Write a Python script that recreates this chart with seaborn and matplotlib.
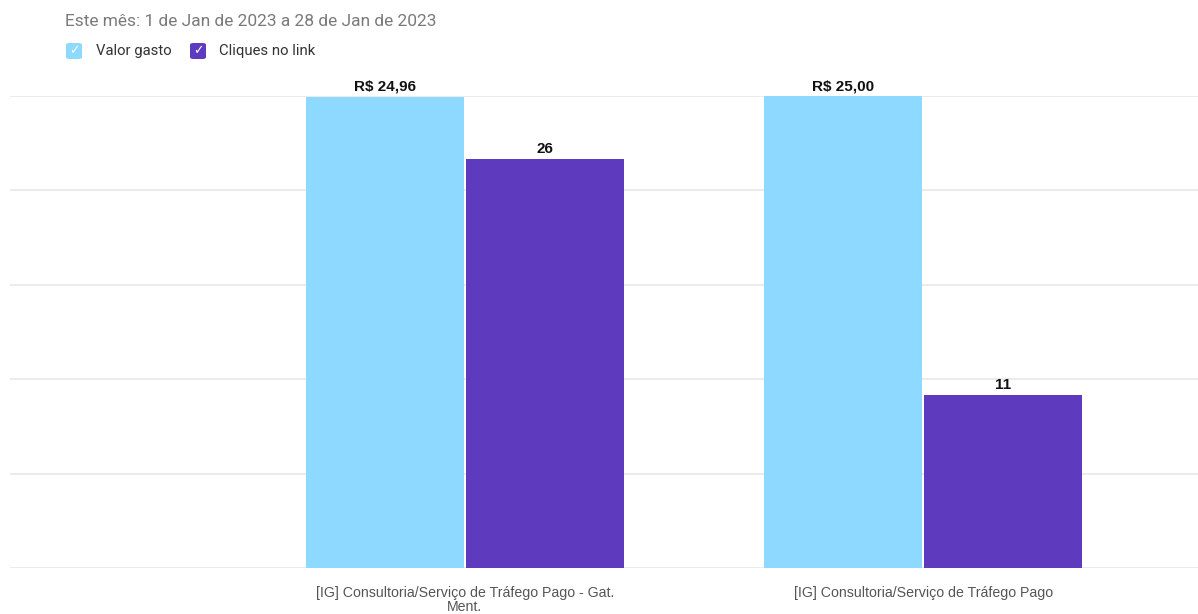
import matplotlib
matplotlib.use("Agg")
import matplotlib.pyplot as plt
import seaborn as sns
import pandas as pd
from matplotlib.patches import FancyBboxPatch

categories = ["[IG] Consultoria/Serviço de Tráfego Pago - Gat.\nMent.",
              "[IG] Consultoria/Serviço de Tráfego Pago"]
series = ["Valor gasto", "Cliques no link"]
valor_gasto = [24.96, 25.00]
cliques = [26, 11]
valor_labels = ["R$ 24,96", "R$ 25,00"]
cliques_labels = ["26", "11"]
title_text = "Este mês: 1 de Jan de 2023 a 28 de Jan de 2023"

colors = {"Valor gasto": "#8DD9FF", "Cliques no link": "#5E3BBE"}

sns.set_theme(style="white")
plt.rcParams["font.family"] = ["Liberation Sans", "DejaVu Sans"]

W, H = 1198, 614
fig = plt.figure(figsize=(W / 100, H / 100), dpi=100)
ax1 = fig.add_axes([10 / W, (H - 568) / H, (W - 10) / W, (568 - 96) / H])
ax2 = ax1.twinx()

df_blue = pd.DataFrame({"cat": categories, "val": valor_gasto, "serie": series[0]})
df_purple = pd.DataFrame({"cat": categories, "val": cliques, "serie": series[1]})

sns.barplot(data=df_blue, x="cat", y="val", hue="serie", hue_order=series,
            order=categories, palette=colors, width=0.70, gap=0.015, dodge=True,
            ax=ax1, legend=False, linewidth=0, saturation=1)
sns.barplot(data=df_purple, x="cat", y="val", hue="serie", hue_order=series,
            order=categories, palette=colors, width=0.70, gap=0.015, dodge=True,
            ax=ax2, legend=False, linewidth=0, saturation=1)

ax1.set_ylim(0, 25)
ax2.set_ylim(0, 30)
ax1.set_yticks([0, 5, 10, 15, 20, 25])
ax2.set_yticks([])
for ax in (ax1, ax2):
    ax.set_xlim(-0.993, 1.60)
    for s in ax.spines.values():
        s.set_visible(False)
    ax.set_xlabel("")
    ax.set_ylabel("")
ax1.set_yticklabels([])
ax1.tick_params(axis="y", length=0)
ax1.grid(axis="y", color="#ebebeb", linewidth=1.5)
ax1.set_axisbelow(True)
ax1.set_xticks(range(len(categories)))
ax1.set_xticklabels(categories, fontsize=10.2, color="#555555", linespacing=0.95)
ax1.tick_params(axis="x", length=0, pad=13, labelbottom=True)
ax2.tick_params(axis="x", length=0, labelbottom=False, labeltop=False)


def label_bars(ax, labels):
    for c in ax.containers:
        patches = [p for p in c if p is not None]
        if len(patches) != len(labels):
            continue
        for p, lab in zip(patches, labels):
            x = p.get_x() + p.get_width() / 2
            y = p.get_height()
            ax.annotate(lab, (x, y), xytext=(0, 2), textcoords="offset points",
                        ha="center", va="bottom", fontsize=11,
                        fontweight="bold", color="#111111")


label_bars(ax1, valor_labels)
label_bars(ax2, cliques_labels)

# header
fig.text(65 / W, 1 - 21 / H, title_text, fontsize=12.5, color="#7a7a7a",
         family=["Roboto", "DejaVu Sans"], va="center", ha="left")

# legend with checkboxes
def checkbox(x, label_x, label, color):
    box = FancyBboxPatch((x / W, 1 - 59 / H), 16 / W, 16 / H,
                         boxstyle="round,pad=0,rounding_size=0.003",
                         transform=fig.transFigure, facecolor=color,
                         edgecolor="none")
    fig.patches.append(box)
    fig.text((x + 8) / W, 1 - 51 / H, "✓", fontsize=9, color="white",
             ha="center", va="center", family=["DejaVu Sans"])
    fig.text(label_x / W, 1 - 51 / H, label, fontsize=10.7, color="#333333",
             ha="left", va="center", family=["Roboto", "DejaVu Sans"])

checkbox(66, 96, series[0], colors[series[0]])
checkbox(190, 219, series[1], colors[series[1]])

fig.savefig("out.png", dpi=100)
